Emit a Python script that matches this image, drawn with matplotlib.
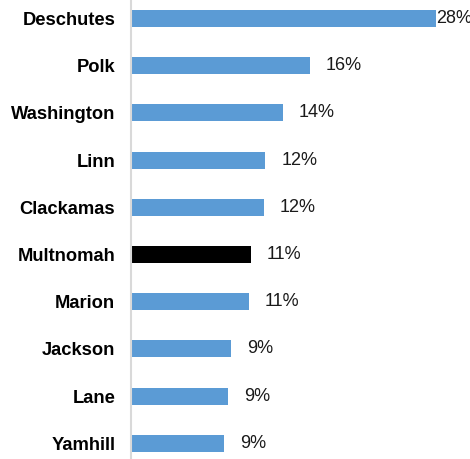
import matplotlib
matplotlib.use("Agg")
import matplotlib.pyplot as plt

counties = ["Deschutes", "Polk", "Washington", "Linn", "Clackamas",
            "Multnomah", "Marion", "Jackson", "Lane", "Yamhill"]
values = [28.0, 16.4, 13.9, 12.3, 12.2, 11.0, 10.8, 9.2, 8.9, 8.5]
labels = ["28%", "16%", "14%", "12%", "12%", "11%", "11%", "9%", "9%", "9%"]
highlight = "Multnomah"

plt.rcParams['font.family'] = ['Liberation Sans', 'DejaVu Sans']

fig = plt.figure(figsize=(4.7, 4.59), dpi=100)
ax = fig.add_axes([130.5 / 470, 0.0, 1 - 130.5 / 470, 1.0])

colors = ["#000000" if c == highlight else "#5B9BD5" for c in counties]
ypos = list(range(len(counties)))
ax.barh(ypos, values, height=0.36, color=colors, left=0.08)

ax.set_ylim(9.33, -0.39)
ax.set_xlim(0, 31.2)

for y, v, lab in zip(ypos, values, labels):
    if v > 25:
        ax.text(v + 0.1, y, lab, va="center", ha="left", fontsize=13, color="#1a1a1a", clip_on=False)
    else:
        ax.text(v + 1.55, y, lab, va="center", ha="left", fontsize=13, color="#1a1a1a")

ax.set_yticks(ypos)
ax.set_yticklabels(counties, fontsize=13.2, fontweight="bold")
ax.tick_params(axis="y", length=0, pad=11)
ax.set_xticks([])
for s in ["top", "right", "bottom"]:
    ax.spines[s].set_visible(False)
ax.spines["left"].set_color("#d9d9d9")
ax.spines["left"].set_linewidth(1.5)

fig.savefig("out.png", dpi=100)
